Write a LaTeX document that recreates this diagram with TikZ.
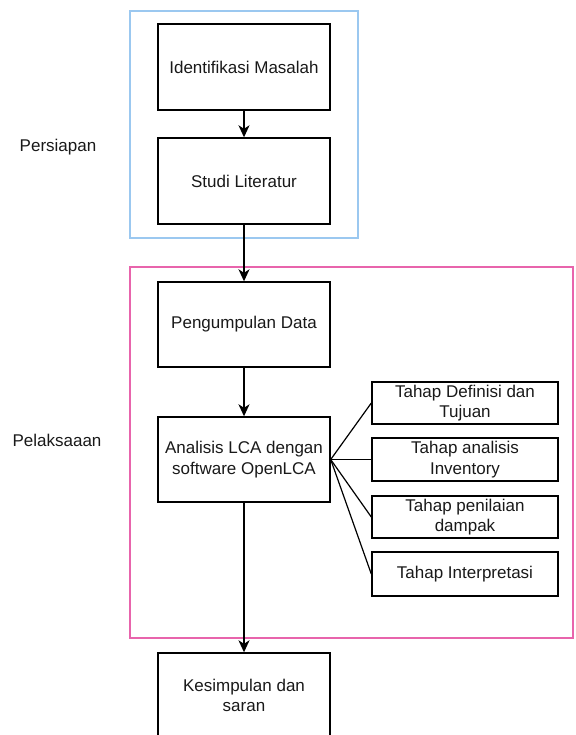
\documentclass[tikz,border=0pt]{standalone}
\usepackage{fontspec}
\setmainfont{Liberation Sans}
\usetikzlibrary{arrows.meta}
\definecolor{frameblue}{RGB}{155,200,240}
\definecolor{framepink}{RGB}{232,100,172}
\begin{document}
\begin{tikzpicture}[x=1pt,y=-1pt,
  box/.style={draw=black,line width=1.4pt,minimum width=172pt,minimum height=86pt,inner sep=2pt,align=center,font=\fontsize{17}{20.5}\selectfont,text=black!90},
  sbox/.style={draw=black,line width=1.4pt,minimum width=186pt,minimum height=43pt,inner sep=1pt,align=center,font=\fontsize{17}{20.5}\selectfont,text=black!90},
  lbl/.style={font=\fontsize{17}{20}\selectfont,text=black!90},
  arr/.style={line width=1.4pt,-{Stealth[length=12pt,width=11pt,inset=3.5pt]}},
  con/.style={line width=1.2pt}]
\useasboundingbox (0,0) rectangle (575,735);
\clip (0,0) rectangle (575,735);
% frames
\node[draw=frameblue,line width=1.3pt,minimum width=228pt,minimum height=227pt,inner sep=0pt] (fb) at (244,124.5) {};
\node[draw=framepink,line width=1.3pt,minimum width=443pt,minimum height=371pt,inner sep=0pt] (fp) at (351.5,452.5) {};
% labels
\node[lbl] (lp) at (58,147) {Persiapan};
\node[lbl] (ll) at (57,440) {Pelaksaaan};
% main boxes
\node[box] (b1) at (244,67) {Identifikasi Masalah};
\node[box] (b2) at (244,181) {Studi Literatur};
\node[box,minimum height=85pt] (pd) at (244,324.5) {Pengumpulan Data};
\node[box,minimum height=85pt] (an) at (244,459.5) {Analisis LCA dengan\\software OpenLCA};
\node[box,minimum height=85pt] (ks) at (244,695.5) {Kesimpulan dan\\saran};
% side boxes
\node[sbox,minimum height=42pt] (r1) at (465,403) {Tahap Definisi dan\\Tujuan};
\node[sbox] (r2) at (465,459.5) {Tahap analisis\\Inventory};
\node[sbox,minimum height=42pt] (r3) at (465,517) {Tahap penilaian\\dampak};
\node[sbox,minimum height=44pt] (r4) at (465,574) {Tahap Interpretasi};
% arrows
\draw[arr] (b1.south) -- (b2.north);
\draw[arr] (b2.south) -- (pd.north);
\draw[arr] (pd.south) -- (an.north);
\draw[arr] (an.south) -- (ks.north);
% connectors
\draw[con] (an.east) -- (r1.west);
\draw[con] (an.east) -- (r2.west);
\draw[con] (an.east) -- (r3.west);
\draw[con] (an.east) -- (r4.west);
\end{tikzpicture}
\end{document}
